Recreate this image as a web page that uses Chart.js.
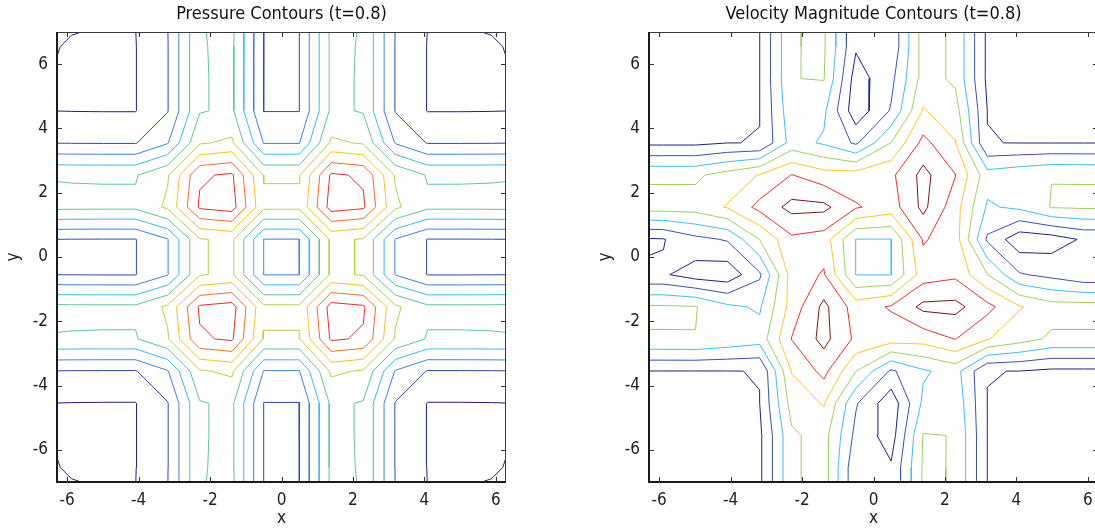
<!DOCTYPE html>
<html>
<head>
<meta charset="utf-8">
<script src="https://cdn.jsdelivr.net/npm/chart.js@4.4.1/dist/chart.umd.min.js"></script>
<style>
html, body { margin: 0; padding: 0; background: #fff; overflow: hidden; width: 1095px; height: 531px; }
.panel { position: absolute; top: 0; width: 560px; height: 531px; }
</style>
</head>
<body>
<div class="panel" style="left:0"><canvas id="pressure-chart" width="560" height="531"></canvas></div>
<div class="panel" style="left:592px"><canvas id="velocity-chart" width="560" height="531"></canvas></div>
<script>
var FONT = "'Liberation Sans Narrow', 'DejaVu Sans Condensed', 'Liberation Sans', Arial, sans-serif";

// axis limits and grid nodes
var xRange = [-6.2832, 6.2832];
var yRange = [-7, 7];
var gridX = [-6.283, -5.879, -4.982, -4.084, -3.187, -2.289, -1.391, -0.494, 0.494, 1.391, 2.289, 3.187, 4.084, 4.982, 5.879, 6.283];
var gridY = [-7, -6.55, -5.55, -4.55, -3.55, -2.55, -1.55, -0.55, 0.55, 1.55, 2.55, 3.55, 4.55, 5.55, 6.55, 7];
var tickValues = [-6, -4, -2, 0, 2, 4, 6];

// pressure is p(x) + p(y), profile read along the grid nodes
var pressureProfile = [0.008, -0.005, -0.015, -0.015, 0.965, 3.935, 4.215, 0.99, 0.99, 4.215, 3.935, 0.965, -0.015, -0.015, -0.005, 0.008];
var pressureLevels = [0, 1, 2, 3, 4, 5, 6, 7, 8];
var pressureColors = ['#1b1f8a', '#2c46b8', '#3f7fe0', '#36bdf0', '#5dc896', '#b4d248', '#f8c21e', '#f76a2c', '#ec2a2a'];

// velocity magnitude, rows from y = 7 (top) down to y = -7
var velocityRows = [
	[-0.05, -0.05, -0.05, -0.05, -0.01, 2.95, 3.12, 0.12, 0.23, 3.43, 2.82, -0.2, -0.05, -0.05, -0.05, -0.05],
	[-0.05, -0.05, -0.05, -0.05, -0.01, 2.95, 3.12, 0.12, 0.23, 3.43, 2.82, -0.2, -0.05, -0.05, -0.05, -0.05],
	[-0.05, -0.05, -0.05, -0.05, -0.01, 2.98, 3.05, -0.48, 0.72, 3.43, 2.82, -0.2, -0.05, -0.05, -0.05, -0.05],
	[-0.05, -0.05, -0.05, -0.05, -0.01, 2.7, 2.2, -0.66, 1.1, 4.08, 3.42, -0.007, -0.05, -0.05, -0.05, -0.05],
	[-0.2, -0.2, -0.2, -0.007, 0.01, 2.4, 1.87, 0.84, 3.02, 5.31, 4.05, 0.01, -0.01, -0.01, -0.01, -0.01],
	[2.82, 2.82, 2.82, 3.42, 4.05, 5.03, 4.4, 4.45, 4.8, 6.31, 5.03, 2.4, 2.7, 2.98, 2.95, 2.95],
	[3.43, 3.43, 3.43, 4.08, 5.31, 6.31, 6.26, 5.1, 4.53, 6.26, 4.4, 1.87, 2.2, 3.05, 3.12, 3.12],
	[-0.1, -0.05, 0.72, 1.1, 3.02, 4.8, 4.53, 1.98, 1.98, 5.1, 4.45, 0.84, -0.66, -0.48, 0.12, 0.12],
	[0.12, 0.12, -0.48, -0.66, 0.84, 4.45, 5.1, 1.98, 1.98, 4.53, 4.8, 3.02, 1.1, 0.72, 0.23, 0.23],
	[3.12, 3.12, 3.05, 2.2, 1.87, 4.4, 6.26, 4.53, 5.1, 6.26, 6.31, 5.31, 4.08, 3.43, 3.43, 3.43],
	[2.95, 2.95, 2.98, 2.7, 2.4, 5.03, 6.31, 4.8, 4.45, 4.4, 5.03, 4.05, 3.42, 2.82, 2.82, 2.82],
	[-0.01, -0.01, -0.01, -0.01, 0.01, 4.05, 5.31, 3.02, 0.84, 1.87, 2.4, 0.01, -0.007, -0.2, -0.2, -0.2],
	[-0.05, -0.05, -0.05, -0.05, -0.007, 3.42, 4.08, 1.1, -0.66, 2.2, 2.7, -0.01, -0.05, -0.05, -0.05, -0.05],
	[-0.05, -0.05, -0.05, -0.05, -0.2, 2.82, 3.43, 0.72, -0.48, 3.05, 2.98, -0.01, -0.05, -0.05, -0.05, -0.05],
	[-0.05, -0.05, -0.05, -0.05, -0.2, 2.82, 3.43, 0.23, 0.12, 3.12, 2.95, -0.01, -0.05, -0.05, -0.05, -0.05],
	[-0.05, -0.05, -0.05, -0.05, -0.2, 2.82, 3.43, 0.23, 0.12, 3.12, 2.95, -0.01, -0.05, -0.05, -0.05, -0.05]
];
var velocityLevels = [0, 1, 2, 3, 4, 5, 6];
var velocityColors = ['#1b1f8a', '#3650b5', '#3ebff0', '#9fd05e', '#fbc624', '#ec3030', '#7a1616'];


function pressureTable() {
	var z = [];
	for (var j = 0; j < gridY.length; j++) {
		var row = [];
		for (var i = 0; i < gridX.length; i++) {
			row.push(pressureProfile[i] + pressureProfile[j]);
		}
		z.push(row);
	}
	return z;
}

function velocityTable() {
	return velocityRows.slice().reverse();
}

// edges: 0 bottom, 1 right, 2 top, 3 left
var CASES = {
	1: [[3, 0]], 2: [[0, 1]], 3: [[3, 1]], 4: [[1, 2]],
	6: [[0, 2]], 7: [[3, 2]], 8: [[3, 2]], 9: [[0, 2]],
	11: [[1, 2]], 12: [[3, 1]], 13: [[0, 1]], 14: [[3, 0]]
};

function contourPaths(z, level) {
	var pts = {};
	var links = {};

	function cross(key, xa, ya, va, xb, yb, vb) {
		if (!pts[key]) {
			var t = (level - va) / (vb - va);
			pts[key] = { x: xa + t * (xb - xa), y: ya + t * (yb - ya) };
		}
		return key;
	}
	function link(a, b) {
		(links[a] = links[a] || []).push(b);
		(links[b] = links[b] || []).push(a);
	}

	for (var j = 0; j < gridY.length - 1; j++) {
		for (var i = 0; i < gridX.length - 1; i++) {
			var x0 = gridX[i], x1 = gridX[i + 1], y0 = gridY[j], y1 = gridY[j + 1];
			var v0 = z[j][i], v1 = z[j][i + 1], v2 = z[j + 1][i + 1], v3 = z[j + 1][i];
			var c = (v0 > level ? 1 : 0) | (v1 > level ? 2 : 0) | (v2 > level ? 4 : 0) | (v3 > level ? 8 : 0);
			if (c === 0 || c === 15) continue;
			var mid = (v0 + v1 + v2 + v3) / 4 > level;
			var pairs;
			if (c === 5) pairs = mid ? [[3, 2], [0, 1]] : [[3, 0], [1, 2]];
			else if (c === 10) pairs = mid ? [[3, 0], [1, 2]] : [[0, 1], [3, 2]];
			else pairs = CASES[c];
			var keys = [
				'h' + j + '_' + i,
				'v' + j + '_' + (i + 1),
				'h' + (j + 1) + '_' + i,
				'v' + j + '_' + i
			];
			var edge = function (e) {
				if (e === 0) return cross(keys[0], x0, y0, v0, x1, y0, v1);
				if (e === 1) return cross(keys[1], x1, y0, v1, x1, y1, v2);
				if (e === 2) return cross(keys[2], x0, y1, v3, x1, y1, v2);
				return cross(keys[3], x0, y0, v0, x0, y1, v3);
			};
			pairs.forEach(function (p) {
				link(edge(p[0]), edge(p[1]));
			});
		}
	}

	var used = {};
	var paths = [];
	function walk(start) {
		var path = [start], cur = start;
		while (true) {
			var nb = links[cur], next = null;
			for (var k = 0; k < nb.length; k++) {
				var ek = cur < nb[k] ? cur + '|' + nb[k] : nb[k] + '|' + cur;
				if (!used[ek]) { used[ek] = true; next = nb[k]; break; }
			}
			if (next === null) break;
			path.push(next);
			cur = next;
			if (cur === start) break;
		}
		if (path.length > 1) paths.push(path.map(function (key) { return pts[key]; }));
	}
	var key;
	for (key in links) {
		if (links[key].length === 1) walk(key);
	}
	for (key in links) {
		walk(key);
	}
	return paths;
}

function contourDatasets(table, levels, colors) {
	var sets = [];
	levels.forEach(function (level, k) {
		contourPaths(table, level).forEach(function (path) {
			sets.push({
				data: path,
				borderColor: colors[k],
				borderWidth: 1,
				showLine: true,
				pointRadius: 0,
				fill: false,
				tension: 0
			});
		});
	});
	return sets;
}

var framePlugin = {
	id: 'frame',
	afterDraw: function (chart) {
		var a = chart.chartArea, ctx = chart.ctx;
		var xs = chart.scales.x, ys = chart.scales.y;
		var l = Math.round(a.left), r = Math.round(a.right);
		var t = Math.round(a.top), b = Math.round(a.bottom);
		ctx.save();
		ctx.strokeStyle = '#3a3a3a';
		ctx.lineWidth = 1;
		ctx.beginPath();
		ctx.moveTo(l, t + 0.5); ctx.lineTo(r, t + 0.5);
		ctx.moveTo(r - 0.5, t); ctx.lineTo(r - 0.5, b);
		ctx.stroke();
		ctx.strokeStyle = '#1a1a1a';
		ctx.lineWidth = 2;
		ctx.beginPath();
		ctx.moveTo(l - 1, b); ctx.lineTo(r, b);
		ctx.moveTo(l, t); ctx.lineTo(l, b + 1);
		ctx.stroke();
		ctx.strokeStyle = '#333';
		ctx.lineWidth = 1;
		ctx.beginPath();
		tickValues.forEach(function (v) {
			var px = Math.round(xs.getPixelForValue(v)) + 0.5;
			ctx.moveTo(px, b); ctx.lineTo(px, b - 5);
			ctx.moveTo(px, t); ctx.lineTo(px, t + 5);
			var py = Math.round(ys.getPixelForValue(v)) + 0.5;
			ctx.moveTo(l, py); ctx.lineTo(l + 5, py);
			ctx.moveTo(r, py); ctx.lineTo(r - 5, py);
		});
		ctx.stroke();
		ctx.restore();
	}
};

function axisOptions(name, isX) {
	var range = isX ? xRange : yRange;
	return {
		type: 'linear',
		min: range[0],
		max: range[1],
		afterBuildTicks: function (axis) {
			axis.ticks = tickValues.map(function (v) { return { value: v }; });
		},
		afterFit: function (scale) {
			if (isX) scale.height = 49; else scale.width = 57;
		},
		grid: { display: false, drawTicks: false },
		border: { display: false },
		ticks: {
			color: '#222',
			padding: isX ? 8 : 9,
			font: { family: FONT, size: 17 },
			autoSkip: false,
			maxRotation: 0
		},
		title: {
			display: true,
			text: name,
			color: '#222',
			font: { family: FONT, size: 17 },
			padding: isX ? { top: 0, bottom: 2 } : { top: 3, bottom: 0 }
		}
	};
}

function makeChart(canvasId, title, table, levels, colors) {
	var ctx = document.getElementById(canvasId).getContext('2d');
	return new Chart(ctx, {
		type: 'scatter',
		data: { datasets: contourDatasets(table, levels, colors) },
		options: {
			responsive: false,
			animation: false,
			events: [],
			layout: { padding: { left: 0, right: 54, top: 0, bottom: 0 } },
			plugins: {
				legend: { display: false },
				tooltip: { enabled: false },
				title: {
					display: true,
					fullSize: false,
					text: title,
					color: '#111',
					font: { family: FONT, size: 18, weight: 'normal', lineHeight: 1.2 },
					padding: { top: 4, bottom: 6.4 }
				}
			},
			scales: {
				x: axisOptions('x', true),
				y: axisOptions('y', false)
			}
		},
		plugins: [framePlugin]
	});
}

makeChart('pressure-chart', 'Pressure Contours (t=0.8)', pressureTable(), pressureLevels, pressureColors);
makeChart('velocity-chart', 'Velocity Magnitude Contours (t=0.8)', velocityTable(), velocityLevels, velocityColors);
</script>
</body>
</html>
